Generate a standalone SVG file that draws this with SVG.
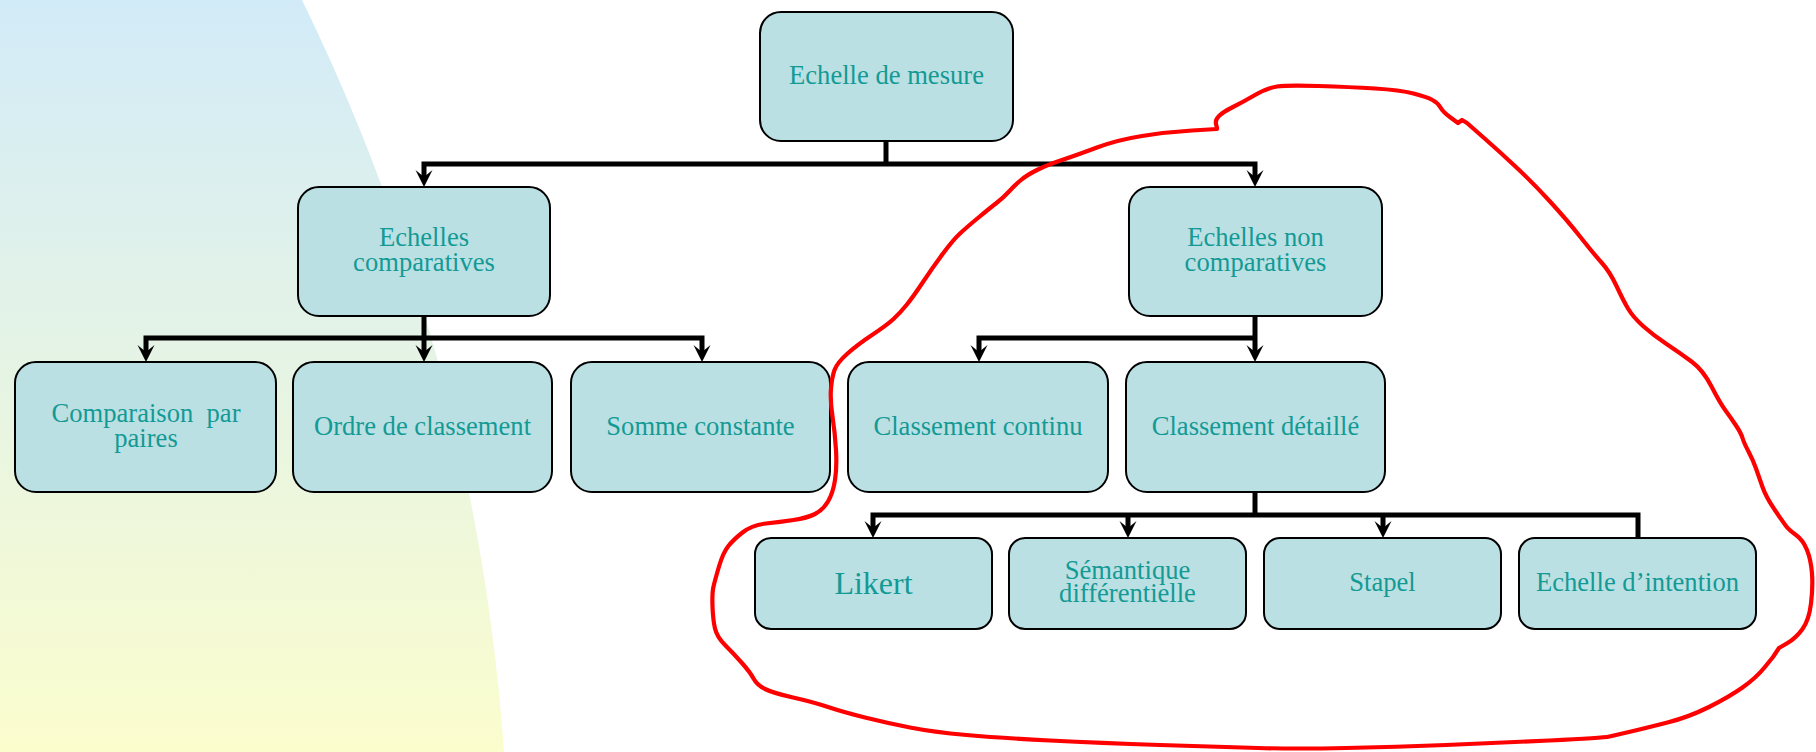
<svg xmlns="http://www.w3.org/2000/svg" xmlns:xlink="http://www.w3.org/1999/xlink" width="1816" height="752" viewBox="0 0 1816 752">
  <defs>
    <linearGradient id="bgGrad" x1="0" y1="0" x2="0" y2="1">
      <stop offset="0" stop-color="#D2EBF8"/>
      <stop offset="0.5" stop-color="#E6F4E4"/>
      <stop offset="1" stop-color="#FBFDCD"/>
    </linearGradient>
    <!-- stealth arrowhead, tip at origin pointing down -->
    <path id="ah" d="M0,0 L-8.5,-17 L0,-10 L8.5,-17 Z" fill="#000"/>
    <style>
      .box { fill: #BAE0E3; stroke: #000; stroke-width: 2; }
      .lbl { font-family: "Liberation Serif", "Times New Roman", serif; font-size: 26.6px; fill: #139A95; text-anchor: middle; }
      .big { font-size: 32px; }
      .wire { fill: none; stroke: #000; stroke-width: 5; stroke-linejoin: miter; stroke-linecap: butt; }
      .loop { fill: none; stroke: #FF0000; stroke-width: 4.2; stroke-linejoin: round; stroke-linecap: round; }
    </style>
  </defs>

  <rect width="1816" height="752" fill="#FFFFFF"/>
  <!-- curved backdrop on the left -->
  <path d="M0,0 H302 A2037,2037 0 0,1 504,752 H0 Z" fill="url(#bgGrad)"/>

  <!-- connectors -->
  <g id="connectors">
    <path class="wire" d="M886,141 V164"/>
    <path class="wire" d="M424,178 V164 H1255 V178"/>
    <path class="wire" d="M424,316 V354"/>
    <path class="wire" d="M146,354 V338 H702 V354"/>
    <path class="wire" d="M1255,316 V354"/>
    <path class="wire" d="M979,354 V338 H1255"/>
    <path class="wire" d="M1255,492 V515"/>
    <path class="wire" d="M873,530 V515 H1638 V538"/>
    <path class="wire" d="M1128,515 V530"/>
    <path class="wire" d="M1383,515 V530"/>
    <use xlink:href="#ah" transform="translate(424,187)"/>
    <use xlink:href="#ah" transform="translate(1255,187)"/>
    <use xlink:href="#ah" transform="translate(146,362)"/>
    <use xlink:href="#ah" transform="translate(424,362)"/>
    <use xlink:href="#ah" transform="translate(702,362)"/>
    <use xlink:href="#ah" transform="translate(979,362)"/>
    <use xlink:href="#ah" transform="translate(1255,362)"/>
    <use xlink:href="#ah" transform="translate(873,538)"/>
    <use xlink:href="#ah" transform="translate(1128,538)"/>
    <use xlink:href="#ah" transform="translate(1383,538)"/>
  </g>

  <!-- nodes -->
  <g id="echelle-de-mesure">
    <rect class="box" x="760" y="12" width="253" height="129" rx="21"/>
    <text class="lbl" x="886.5" y="84">Echelle de mesure</text>
  </g>
  <g id="echelles-comparatives">
    <rect class="box" x="298" y="187" width="252" height="129" rx="21"/>
    <text class="lbl" x="424" y="246">Echelles</text>
    <text class="lbl" x="424" y="271">comparatives</text>
  </g>
  <g id="echelles-non-comparatives">
    <rect class="box" x="1129" y="187" width="253" height="129" rx="21"/>
    <text class="lbl" x="1255.5" y="246">Echelles non</text>
    <text class="lbl" x="1255.5" y="271">comparatives</text>
  </g>
  <g id="comparaison-par-paires">
    <rect class="box" x="15" y="362" width="261" height="130" rx="21"/>
    <text class="lbl" x="146" y="422" xml:space="preserve">Comparaison  par</text>
    <text class="lbl" x="146" y="447">paires</text>
  </g>
  <g id="ordre-de-classement">
    <rect class="box" x="293" y="362" width="259" height="130" rx="21"/>
    <text class="lbl" x="422.5" y="435">Ordre de classement</text>
  </g>
  <g id="somme-constante">
    <rect class="box" x="571" y="362" width="259" height="130" rx="21"/>
    <text class="lbl" x="700.5" y="435">Somme constante</text>
  </g>
  <g id="classement-continu">
    <rect class="box" x="848" y="362" width="260" height="130" rx="21"/>
    <text class="lbl" x="978" y="435">Classement continu</text>
  </g>
  <g id="classement-detaille">
    <rect class="box" x="1126" y="362" width="259" height="130" rx="21"/>
    <text class="lbl" x="1255.5" y="435">Classement détaillé</text>
  </g>
  <g id="likert">
    <rect class="box" x="755" y="538" width="237" height="91" rx="16"/>
    <text class="lbl big" x="873.5" y="594">Likert</text>
  </g>
  <g id="semantique-differentielle">
    <rect class="box" x="1009" y="538" width="237" height="91" rx="16"/>
    <text class="lbl" x="1127.5" y="579">Sémantique</text>
    <text class="lbl" x="1127.5" y="602">différentielle</text>
  </g>
  <g id="stapel">
    <rect class="box" x="1264" y="538" width="237" height="91" rx="16"/>
    <text class="lbl" x="1382.5" y="591">Stapel</text>
  </g>
  <g id="echelle-intention">
    <rect class="box" x="1519" y="538" width="237" height="91" rx="16"/>
    <text class="lbl" x="1637.5" y="591">Echelle d’intention</text>
  </g>

  <!-- hand-drawn red loop -->
  <path class="loop" d="M1217,128 L1216,124 Q1215,120 1219,116 Q1223,112 1233,107 Q1243,102 1255,95 Q1267,88 1277,86.5 Q1287,85 1318.5,86 Q1350,87 1375,88.5 Q1400,90 1413.5,93.5 Q1427,97 1432.5,100 Q1438,103 1440.5,107.5 Q1443,112 1450.5,117.5 L1458,123 L1462,120 L1467,123 Q1467,123 1483.5,137.5 Q1500,152 1516.5,167.5 Q1533,183 1550,201.5 Q1567,220 1580,236.5 Q1593,253 1601.5,262.5 Q1610,272 1616.5,286 Q1623,300 1628,308.5 Q1633,317 1643,326 Q1653,335 1666.5,344 Q1680,353 1691.5,361.5 Q1703,370 1711.5,386.5 Q1720,403 1725.5,410.5 Q1731,418 1736,425.5 Q1741,433 1742.5,438 Q1744,443 1748.5,451.5 Q1753,460 1756,468.5 Q1759,477 1762.5,487 Q1766,497 1774.5,509.5 Q1783,522 1786,526 Q1789,530 1796,535 Q1803,540 1807,550 Q1811,560 1812,573.5 Q1813,587 1811,603.5 Q1809,620 1802.5,629 Q1796,638 1787.5,643 L1779,648 L1773,657 Q1773,657 1764.5,667.5 Q1756,678 1742.5,687.5 Q1729,697 1709,707 Q1689,717 1667.5,722.5 Q1646,728 1631,731.5 Q1616,735 1609.5,736.5 Q1603,738 1549.5,740.5 Q1496,743 1446,745 Q1396,747 1346,748 Q1296,749 1258,748 Q1220,747 1160,745 Q1100,743 1050,740.5 Q1000,738 966.5,735 Q933,732 910,727.5 Q887,723 865,717.5 Q843,712 828,707 Q813,702 793,697.5 Q773,693 765,689 Q757,685 753.5,678.5 Q750,672 741.5,662.5 Q733,653 725,645 Q717,637 715,628.5 Q713,620 712.5,606.5 Q712,593 713.5,586.5 Q715,580 719,566.5 Q723,553 728,546.5 Q733,540 742.5,532.5 Q752,525 766,523.5 Q780,522 793.5,520 Q807,518 815,514 Q823,510 828,501.5 Q833,493 835,480 Q837,467 836,450 Q835,433 832.5,416.5 Q830,400 831,388.5 Q832,377 834.5,370 Q837,363 847,354 Q857,345 872,335 Q887,325 893.5,319 Q900,313 906.5,305 Q913,297 923,282 Q933,267 943,253.5 Q953,240 960,233.5 Q967,227 978.5,217.5 Q990,208 996.5,203 Q1003,198 1009,191.5 Q1015,185 1021,180 Q1027,175 1037,170 Q1047,165 1062,160 Q1077,155 1097,147.5 Q1117,140 1142,136 Q1167,132 1192,130.5 L1217,129"/>
</svg>
